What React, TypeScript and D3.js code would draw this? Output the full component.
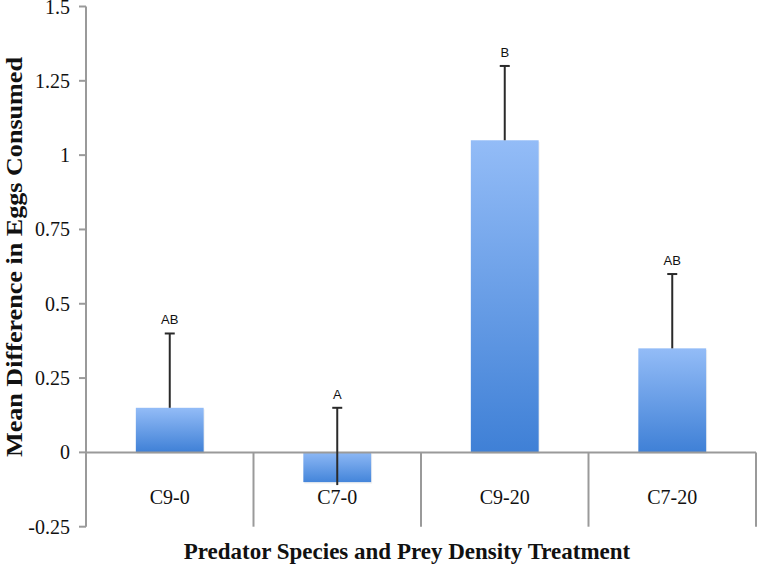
import React from "react";
import * as d3 from "d3";

const categories = ["C9-0", "C7-0", "C9-20", "C7-20"];
const means = [0.15, -0.1, 1.05, 0.35];
const errorTops = [0.4, 0.15, 1.3, 0.6];
const sigLetters = ["AB", "A", "B", "AB"];
const yTicks = [-0.25, 0, 0.25, 0.5, 0.75, 1, 1.25, 1.5];
const yTickLabels = ["-0.25", "0", "0.25", "0.5", "0.75", "1", "1.25", "1.5"];

export default function App() {
  const W = 760, H = 569;
  const left = 86, right = 756, top = 6.5, bottom = 526.7;
  const x = d3.scaleBand().domain(categories).range([left, right]).paddingInner(0).paddingOuter(0);
  const y = d3.scaleLinear().domain([-0.25, 1.5]).range([bottom, top]);
  const bw = x.bandwidth() * 0.405;
  const axisColor = "#9a9a9a";
  const serif = "'Liberation Serif', 'Times New Roman', serif";
  const sans = "'Liberation Sans', Arial, sans-serif";
  return (
    <svg width={W} height={H} style={{ position: "absolute", left: 0, top: 0, background: "#fff" }}>
      <defs>
        <linearGradient id="barGrad" x1="0" y1="0" x2="0" y2="1">
          <stop offset="0%" stopColor="#93bcf7" />
          <stop offset="100%" stopColor="#3f80d6" />
        </linearGradient>
        <linearGradient id="barGradNeg" x1="0" y1="0" x2="0" y2="1">
          <stop offset="0%" stopColor="#8db8f5" />
          <stop offset="100%" stopColor="#4485da" />
        </linearGradient>
      </defs>
      {/* y axis */}
      <line x1={left} x2={left} y1={y(1.5)} y2={y(-0.25)} stroke={axisColor} strokeWidth={2} />
      {yTicks.map((t, i) => (
        <g key={t}>
          <line x1={left - 7} x2={left} y1={y(t)} y2={y(t)} stroke={axisColor} strokeWidth={2} />
          <text x={left - 16} y={y(t)} dy="0.35em" textAnchor="end" fontFamily={serif} fontSize={20} fill="#111">
            {yTickLabels[i]}
          </text>
        </g>
      ))}
      {/* bars */}
      {categories.map((c, i) => {
        const cx = (x(c) as number) + x.bandwidth() / 2;
        const y0 = y(0), y1 = y(means[i]);
        const yTop = Math.min(y0, y1), h = Math.abs(y1 - y0);
        return (
          <g key={c}>
            <rect x={cx - bw / 2 + 1} y={yTop + 1.5} width={bw} height={h} fill="#000" opacity={0.06} />
            <rect x={cx - bw / 2} y={yTop} width={bw} height={h} fill={means[i] < 0 ? "url(#barGradNeg)" : "url(#barGrad)"} />
          </g>
        );
      })}
      {/* zero line & category separators */}
      <line x1={left} x2={right} y1={y(0)} y2={y(0)} stroke={axisColor} strokeWidth={2} />
      {categories.map((c) => (
        <line key={"sep" + c} x1={(x(c) as number) + x.bandwidth()} x2={(x(c) as number) + x.bandwidth()} y1={y(0)} y2={y(-0.25)} stroke={axisColor} strokeWidth={2} />
      ))}
      {/* error bars */}
      {categories.map((c, i) => {
        const cx = (x(c) as number) + x.bandwidth() / 2;
        const base = means[i] < 0 ? means[i] - 0.01 : means[i];
        return (
          <g key={"err" + c}>
            <line x1={cx} x2={cx} y1={y(base)} y2={y(errorTops[i])} stroke="#2a2a2a" strokeWidth={2} />
            <line x1={cx - 5} x2={cx + 5} y1={y(errorTops[i])} y2={y(errorTops[i])} stroke="#2a2a2a" strokeWidth={2} />
            <text x={cx} y={y(errorTops[i]) - 9} textAnchor="middle" fontFamily={sans} fontSize={13} fill="#111">
              {sigLetters[i]}
            </text>
          </g>
        );
      })}
      {/* category labels */}
      {categories.map((c) => (
        <text key={"lab" + c} x={(x(c) as number) + x.bandwidth() / 2} y={497} dy="0.35em" textAnchor="middle" fontFamily={serif} fontSize={20} fill="#111">
          {c}
        </text>
      ))}
      {/* axis titles */}
      <text x={407} y={559} textAnchor="middle" fontFamily={serif} fontWeight="bold" fontSize={23} fill="#111">
        Predator Species and Prey Density Treatment
      </text>
      <text transform={`translate(22, 257) rotate(-90)`} textAnchor="middle" fontFamily={serif} fontWeight="bold" fontSize={24} textLength={400} lengthAdjust="spacingAndGlyphs" fill="#111">
        Mean Difference in Eggs Consumed
      </text>
    </svg>
  );
}
